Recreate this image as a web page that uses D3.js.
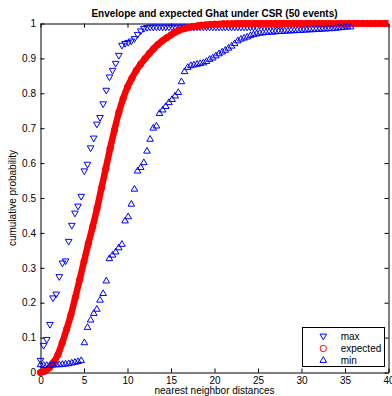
<!DOCTYPE html>
<html>
<head>
<meta charset="utf-8">
<script src="https://cdn.jsdelivr.net/npm/d3@7"></script>
<style>
  html, body { margin: 0; padding: 0; background: #fff; }
  svg { display: block; }
  text { font-family: "Liberation Sans", Arial, Helvetica, sans-serif; fill: #000; }
</style>
</head>
<body>
<svg id="chart" width="392" height="396"></svg>
<script>
// Nearest-neighbour distances at which the simulated envelope is evaluated
const envDist = [0, 0.36, 0.72, 1.08, 1.44, 1.8, 2.16, 2.52, 2.88, 3.24,
  3.6, 3.96, 4.32, 4.68, 5.04, 5.4, 5.76, 6.12, 6.48, 6.84,
  7.2, 7.56, 7.92, 8.28, 8.64, 9, 9.36, 9.72, 10.08, 10.44,
  10.8, 11.16, 11.52, 11.88, 12.24, 12.6, 12.96, 13.32, 13.68, 14.04,
  14.4, 14.76, 15.12, 15.48, 15.84, 16.2, 16.56, 16.92, 17.28, 17.64,
  18, 18.36, 18.72, 19.08, 19.44, 19.8, 20.16, 20.52, 20.88, 21.24,
  21.6, 21.96, 22.32, 22.68, 23.04, 23.4, 23.76, 24.12, 24.48, 24.84,
  25.2, 25.56, 25.92, 26.28, 26.64, 27, 27.36, 27.72, 28.08, 28.44,
  28.8, 29.16, 29.52, 29.88, 30.24, 30.6, 30.96, 31.32, 31.68, 32.04,
  32.4, 32.76, 33.12, 33.48, 33.84, 34.2, 34.56, 34.92, 35.28, 35.64];

// Upper envelope (max of simulated Ghat)
const maxG = [0.035, 0.078, 0.095, 0.138, 0.214, 0.225, 0.275, 0.314, 0.320, 0.376,
  0.422, 0.457, 0.477, 0.505, 0.578, 0.597, 0.644, 0.672, 0.712, 0.731,
  0.770, 0.809, 0.847, 0.866, 0.886, 0.909, 0.938, 0.943, 0.946, 0.950,
  0.957, 0.969, 0.979, 0.986, 0.989, 0.990, 0.990, 0.990, 0.990, 0.990,
  0.990, 0.990, 0.990, 0.990, 0.990, 0.990, 0.990, 0.990, 0.990, 0.990,
  0.990, 0.990, 0.990, 0.990, 0.990, 0.990, 0.990, 0.990, 0.990, 0.990,
  0.990, 0.990, 0.990, 0.990, 0.990, 0.990, 0.990, 0.990, 0.990, 0.990,
  0.995, 0.995, 0.995, 0.995, 0.995, 0.995, 0.995, 0.995, 1, 1,
  1, 1, 1, 1, 1, 1, 1, 1, 1, 1,
  1, 1, 1, 1, 1, 1, 1, 1, 1, 1];

// Lower envelope (min of simulated Ghat)
const minG = [0.022, 0.020, 0.020, 0.020, 0.021, 0.022, 0.022, 0.023, 0.024, 0.025,
  0.027, 0.029, 0.031, 0.034, 0.085, 0.129, 0.150, 0.169, 0.181, 0.207,
  0.226, 0.262, 0.326, 0.336, 0.345, 0.357, 0.367, 0.434, 0.446, 0.482,
  0.525, 0.577, 0.587, 0.601, 0.634, 0.668, 0.700, 0.706, 0.742, 0.752,
  0.762, 0.773, 0.782, 0.792, 0.802, 0.833, 0.862, 0.874, 0.879, 0.881,
  0.883, 0.885, 0.887, 0.891, 0.897, 0.901, 0.907, 0.913, 0.918, 0.923,
  0.929, 0.935, 0.942, 0.950, 0.955, 0.958, 0.961, 0.965, 0.968, 0.970,
  0.972, 0.973, 0.974, 0.975, 0.975, 0.976, 0.977, 0.977, 0.978, 0.978,
  0.979, 0.979, 0.980, 0.980, 0.981, 0.981, 0.982, 0.982, 0.983, 0.983,
  0.984, 0.984, 0.985, 0.985, 0.986, 0.987, 0.988, 0.989, 0.990, 0.990];

// Expected Ghat under complete spatial randomness
const expDist = [0, 0.5, 1, 1.5, 2, 2.5, 3, 3.5, 4, 4.5,
  5, 5.5, 6, 6.5, 7, 7.5, 8, 8.5, 9, 9.5,
  10, 10.5, 11, 11.5, 12, 12.5, 13, 13.5, 14, 14.5,
  15, 15.5, 16, 16.5, 17, 17.5, 18, 18.5, 19, 19.5,
  20, 20.5, 21, 21.5, 22, 22.5, 23, 23.5, 24, 24.5,
  25, 25.5, 26, 26.5, 27, 27.5, 28, 28.5, 29, 29.5,
  30, 30.5, 31, 31.5, 32, 32.5, 33, 33.5, 34, 34.5,
  35, 35.5, 36, 36.5, 37, 37.5, 38, 38.5, 39, 39.5, 40];
const expG = [0, 0.004, 0.013, 0.029, 0.051, 0.085, 0.124, 0.166, 0.215, 0.266,
  0.318, 0.370, 0.418, 0.470, 0.528, 0.584, 0.642, 0.695, 0.745, 0.785,
  0.818, 0.843, 0.865, 0.883, 0.899, 0.914, 0.928, 0.940, 0.950, 0.959,
  0.967, 0.975, 0.981, 0.985, 0.988, 0.991, 0.993, 0.995, 0.996, 0.997,
  0.998, 0.998, 0.999, 0.999, 0.999, 1, 1, 1, 1, 1,
  1, 1, 1, 1, 1, 1, 1, 1, 1, 1,
  1, 1, 1, 1, 1, 1, 1, 1, 1, 1,
  1, 1, 1, 1, 1, 1, 1, 1, 1, 1, 1];

const xTicks = [0, 5, 10, 15, 20, 25, 30, 35, 40];
const xTickLabels = ["0", "5", "10", "15", "20", "25", "30", "35", "40"];
const yTicks = [0, 0.1, 0.2, 0.3, 0.4, 0.5, 0.6, 0.7, 0.8, 0.9, 1];
const yTickLabels = ["0", "0.1", "0.2", "0.3", "0.4", "0.5", "0.6", "0.7", "0.8", "0.9", "1"];

const titleText = "Envelope and expected Ghat under CSR (50 events)";
const xLabel = "nearest neighbor distances";
const yLabel = "cumulative probability";
const legendLabels = ["max", "expected", "min"];

const BLUE = "#0000ff", RED = "#ff0000";

const svg = d3.select("#chart");
const x = d3.scaleLinear().domain([0, 40]).range([40.5, 388.5]);
const y = d3.scaleLinear().domain([0, 1]).range([372.5, 23.5]);

// Axes box with inward ticks on all four sides
function styleAxis(g) {
  g.selectAll("path.domain").attr("stroke", "#000").attr("stroke-width", 1);
  g.selectAll(".tick line").attr("stroke", "#000").attr("stroke-width", 1);
  g.selectAll(".tick text").attr("font-size", 10).attr("font-family", '"Liberation Sans", Arial, sans-serif').attr("fill", "#000");
}
svg.append("g").attr("transform", `translate(0,${y(0)})`)
  .call(d3.axisBottom(x).tickValues(xTicks).tickFormat((d, i) => xTickLabels[i])
    .tickSizeInner(-4).tickSizeOuter(0).tickPadding(4))
  .call(styleAxis);
svg.append("g").attr("transform", `translate(0,${y(1)})`)
  .call(d3.axisTop(x).tickValues(xTicks).tickFormat("").tickSizeInner(-4).tickSizeOuter(0))
  .call(styleAxis);
svg.append("g").attr("transform", `translate(${x(0)},0)`)
  .call(d3.axisLeft(y).tickValues(yTicks).tickFormat((d, i) => yTickLabels[i])
    .tickSizeInner(-4).tickSizeOuter(0).tickPadding(4.5))
  .call(styleAxis);
svg.append("g").attr("transform", `translate(${x(40)},0)`)
  .call(d3.axisRight(y).tickValues(yTicks).tickFormat("").tickSizeInner(-4).tickSizeOuter(0))
  .call(styleAxis);

const triUp = d3.symbol().type(d3.symbolTriangle).size(19);

// max: downward triangles
svg.append("g").selectAll("path").data(envDist.map((d, i) => [d, maxG[i]])).join("path")
  .attr("d", triUp)
  .attr("transform", d => `translate(${x(d[0])},${y(d[1])}) rotate(180)`)
  .attr("fill", "none").attr("stroke", BLUE).attr("stroke-width", 1);

// expected: dense red circles, clipped at the right edge of the axes
svg.append("clipPath").attr("id", "clipRight")
  .append("rect").attr("x", 0).attr("y", 0).attr("width", x(40)).attr("height", 396);
const expData = expDist.map((d, i) => [d, expG[i]]);
const expG_ = svg.append("g").attr("clip-path", "url(#clipRight)");
expG_.append("path").datum(expData)
  .attr("d", d3.line().x(d => x(d[0])).y(d => y(d[1])).curve(d3.curveMonotoneX))
  .attr("fill", "none").attr("stroke", RED).attr("stroke-width", 6.5)
  .attr("stroke-linecap", "round").attr("stroke-linejoin", "round");
expG_.selectAll("circle").data(expData).join("circle")
  .attr("cx", d => x(d[0])).attr("cy", d => y(d[1])).attr("r", 3.2)
  .attr("fill", "none").attr("stroke", RED).attr("stroke-width", 1);

// min: upward triangles
svg.append("g").selectAll("path").data(envDist.map((d, i) => [d, minG[i]])).join("path")
  .attr("d", triUp)
  .attr("transform", d => `translate(${x(d[0])},${y(d[1])})`)
  .attr("fill", "none").attr("stroke", BLUE).attr("stroke-width", 1);

// Title and axis labels
svg.append("text").attr("x", 214.5).attr("y", 16.5).attr("text-anchor", "middle")
  .attr("font-size", 10).attr("font-weight", "bold").text(titleText);
svg.append("text").attr("x", 214.5).attr("y", 394).attr("text-anchor", "middle")
  .attr("font-size", 10).text(xLabel);
svg.append("text").attr("transform", "translate(16.3,198) rotate(-90)")
  .attr("text-anchor", "middle").attr("font-size", 10).text(yLabel);

// Legend
const lg = svg.append("g");
lg.append("rect").attr("x", 302.5).attr("y", 327.5).attr("width", 82).attr("height", 39)
  .attr("fill", "#fff").attr("stroke", "#000").attr("stroke-width", 1);
const rowY = [336, 348.5, 360.5];
lg.append("path").attr("d", triUp).attr("transform", `translate(323.3,${rowY[0]}) rotate(180)`)
  .attr("fill", "none").attr("stroke", BLUE);
lg.append("circle").attr("cx", 323.3).attr("cy", rowY[1]).attr("r", 3.2)
  .attr("fill", "none").attr("stroke", RED);
lg.append("path").attr("d", triUp).attr("transform", `translate(323.3,${rowY[2]})`)
  .attr("fill", "none").attr("stroke", BLUE);
legendLabels.forEach((t, i) => {
  lg.append("text").attr("x", 340.7).attr("y", rowY[i] + 3.5).attr("font-size", 10).text(t);
});
</script>
</body>
</html>
